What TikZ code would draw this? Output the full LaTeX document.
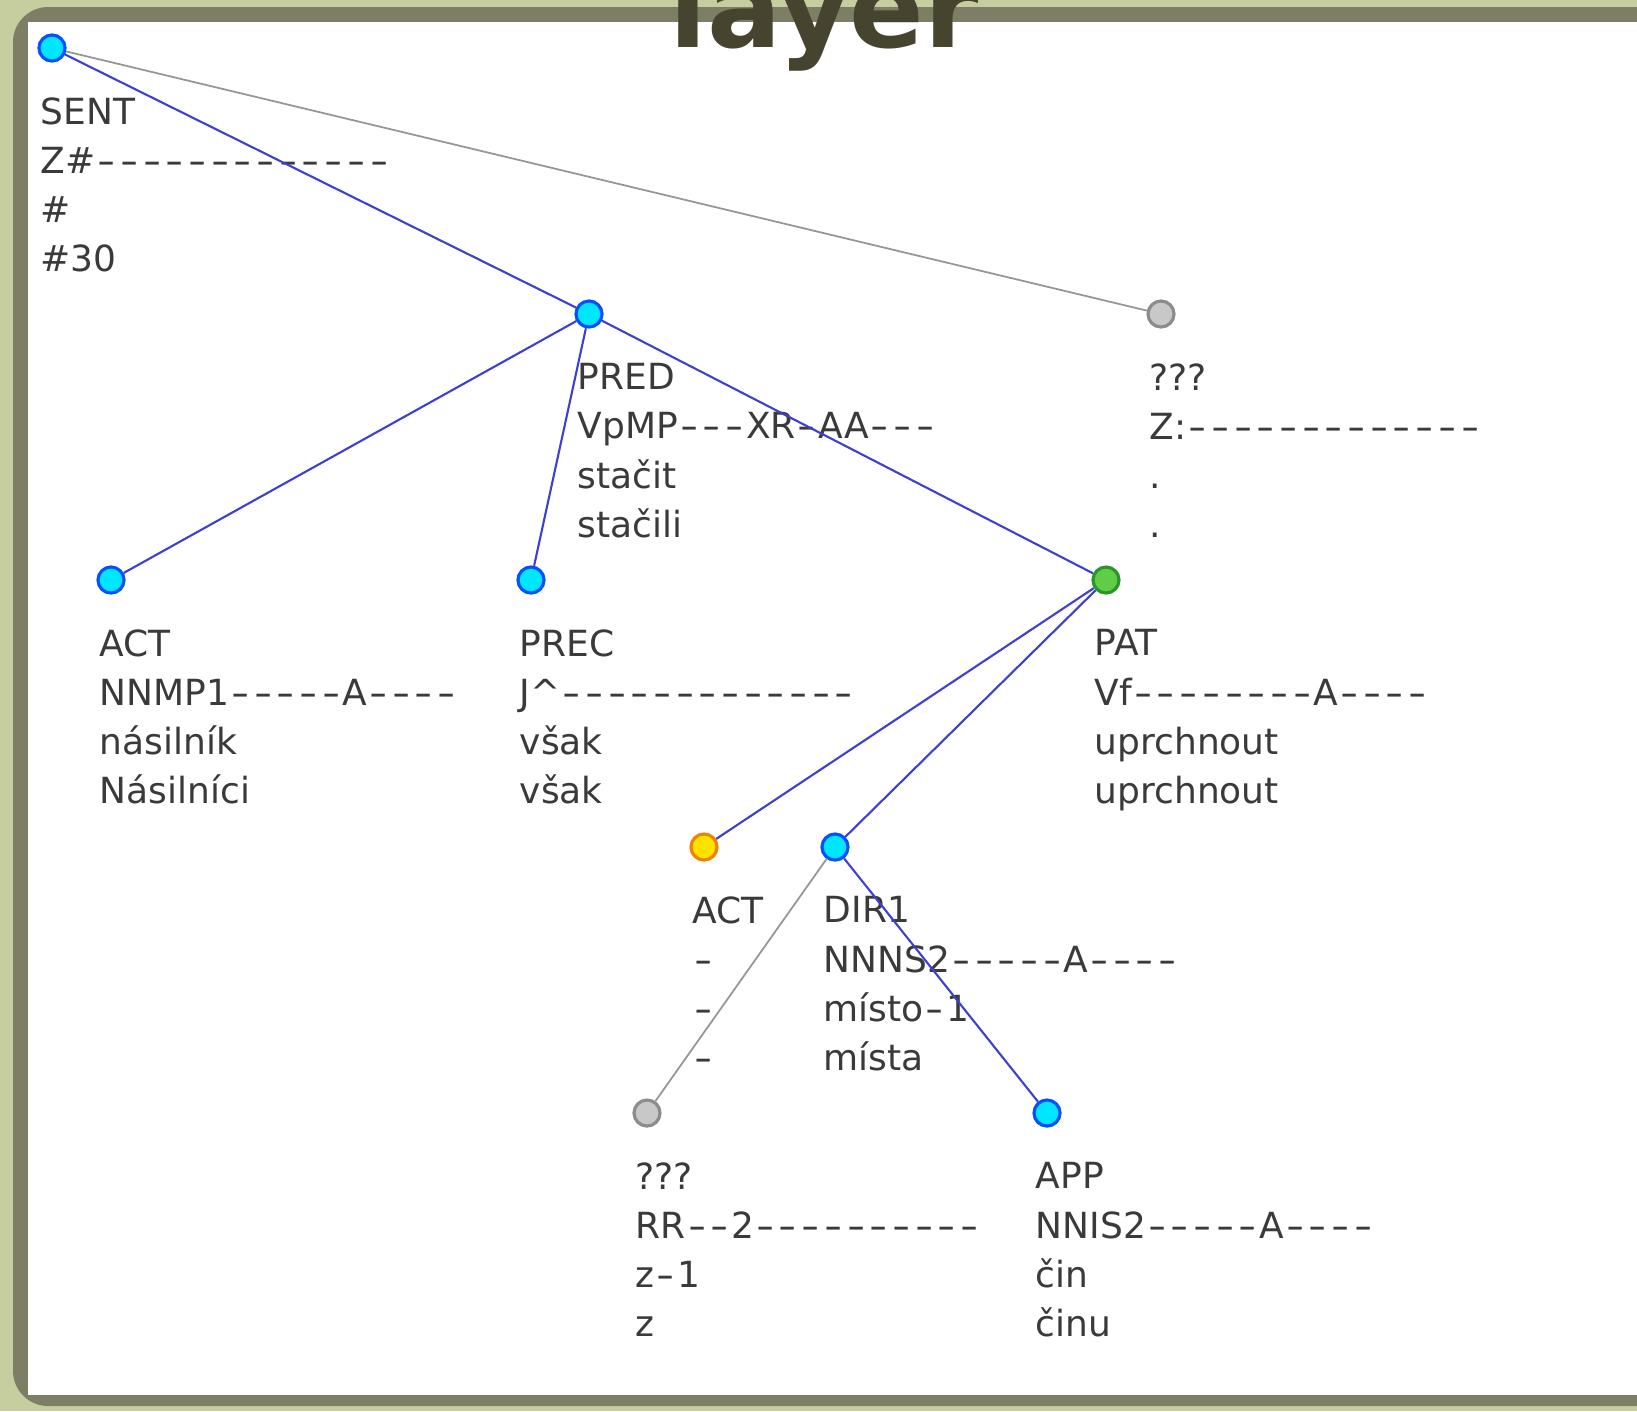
\documentclass[tikz,border=0pt]{standalone}
\usepackage{fontspec}
\setmainfont{DejaVu Sans}
\usetikzlibrary{calc}
\definecolor{bgGreen}{RGB}{198,206,160}
\definecolor{frameGray}{RGB}{126,126,102}
\definecolor{titleOlive}{RGB}{70,67,46}
\definecolor{nodeCyan}{RGB}{0,230,255}
\definecolor{nodeBlue}{RGB}{0,80,255}
\definecolor{nodeGrey}{RGB}{200,200,200}
\definecolor{nodeGreyLine}{RGB}{140,140,140}
\definecolor{nodeGreen}{RGB}{96,204,72}
\definecolor{nodeGreenLine}{RGB}{40,150,40}
\definecolor{nodeYellow}{RGB}{255,226,0}
\definecolor{nodeOrange}{RGB}{240,130,0}
\definecolor{edgeBlue}{RGB}{64,64,208}
\definecolor{edgeGrey}{RGB}{150,150,150}
\definecolor{labelText}{RGB}{58,58,58}
\newcommand{\dsh}{\makebox[0.63em]{\scalebox{1.4}[1]{-}}}
\def\tagscan#1{\ifx#1\relax\else\ifx#1-\dsh\else#1\fi\expandafter\tagscan\fi}
\newcommand{\tg}[1]{\tagscan#1\relax}

\begin{document}
\begin{tikzpicture}[x=0.01cm,y=-0.01cm,
  tnode/.style={circle,inner sep=0pt,minimum size=7.4pt,line width=0.9pt},
  cyannode/.style={tnode,fill=nodeCyan,draw=nodeBlue},
  greynode/.style={tnode,fill=nodeGrey,draw=nodeGreyLine},
  greennode/.style={tnode,fill=nodeGreen,draw=nodeGreenLine},
  yellownode/.style={tnode,fill=nodeYellow,draw=nodeOrange},
  lbl/.style={anchor=north west,inner sep=0pt,align=left,text=labelText,
    font=\fontsize{10.24}{13.94}\selectfont},
  blueedge/.style={edgeBlue,line width=0.6pt},
  greyedge/.style={edgeGrey,line width=0.5pt}]
  \clip (0,0) rectangle (1637,1411);
  \fill[bgGreen] (0,0) rectangle (1637,1411);
  \fill[frameGray,rounded corners=10] (13,7) rectangle (1680,1406);
  \fill[white] (28,22) rectangle (1680,1395);
  \node[anchor=base,inner sep=0pt,text=titleOlive,font=\fontsize{31.3}{31.3}\selectfont\bfseries] (title) at (824,47) {layer};

  \node[cyannode] (sent) at (52,48) {};
  \node[cyannode] (pred) at (589,314) {};
  \node[greynode] (punct) at (1161,314) {};
  \node[cyannode] (act) at (111,580) {};
  \node[cyannode] (prec) at (531,580) {};
  \node[greennode] (pat) at (1106,580) {};
  \node[yellownode] (actgen) at (704,847) {};
  \node[cyannode] (dir) at (835,847) {};
  \node[greynode] (prep) at (647,1113) {};
  \node[cyannode] (app) at (1047,1113) {};

  \node[lbl] (sentL) at ([shift={(-12,49)}]sent.center) {SENT\\\tg{Z\#-------------}\\\#\\\#30};
  \node[lbl] (predL) at ([shift={(-12,49)}]pred.center) {PRED\\\tg{VpMP---XR-AA---}\\stačit\\stačili};
  \node[lbl] (punctL) at ([shift={(-12,49)}]punct.center) {???\\\tg{Z:-------------}\\.\\.};
  \node[lbl] (actL) at ([shift={(-12,49)}]act.center) {ACT\\\tg{NNMP1-----A----}\\násilník\\Násilníci};
  \node[lbl] (precL) at ([shift={(-12,49)}]prec.center) {PREC\\\tg{J\textasciicircum-------------}\\však\\však};
  \node[lbl] (patL) at ([shift={(-12,49)}]pat.center) {PAT\\\tg{Vf--------A----}\\uprchnout\\uprchnout};
  \node[lbl] (actgenL) at ([shift={(-12,49)}]actgen.center) {ACT\\\tg{-}\\\tg{-}\\\tg{-}};
  \node[lbl] (dirL) at ([shift={(-12,49)}]dir.center) {DIR1\\\tg{NNNS2-----A----}\\\tg{místo-1}\\místa};
  \node[lbl] (prepL) at ([shift={(-12,49)}]prep.center) {???\\\tg{RR--2----------}\\\tg{z-1}\\z};
  \node[lbl] (appL) at ([shift={(-12,49)}]app.center) {APP\\\tg{NNIS2-----A----}\\čin\\činu};

  \draw[blueedge] (sent) -- (pred);
  \draw[greyedge] (sent) -- (punct);
  \draw[blueedge] (pred) -- (act);
  \draw[blueedge] (pred) -- (prec);
  \draw[blueedge] (pred) -- (pat);
  \draw[blueedge] (pat) -- (actgen);
  \draw[blueedge] (pat) -- (dir);
  \draw[greyedge] (dir) -- (prep);
  \draw[blueedge] (dir) -- (app);
\end{tikzpicture}
\end{document}
